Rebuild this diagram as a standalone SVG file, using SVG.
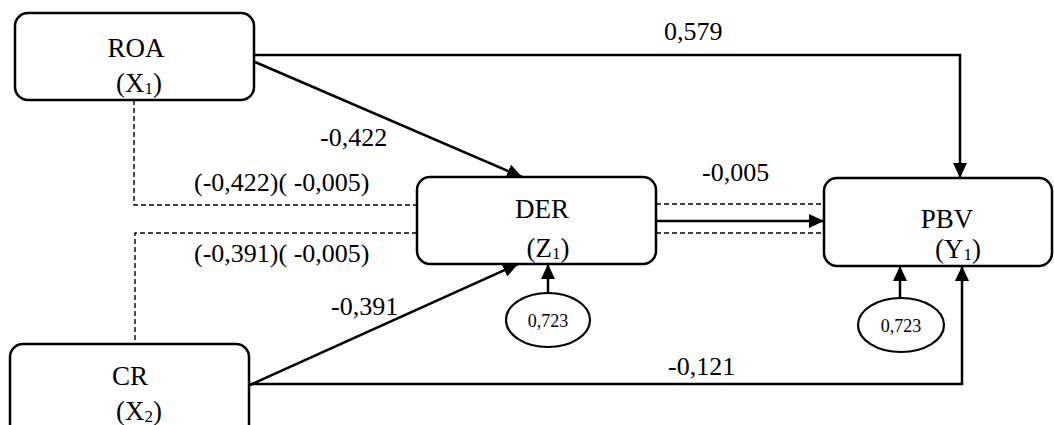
<svg xmlns="http://www.w3.org/2000/svg" width="1054" height="425" viewBox="0 0 1054 425">
<style>
.box{fill:#fff;stroke:#000;stroke-width:2.5}
.ell{fill:#fff;stroke:#000;stroke-width:2.2}
.t{font-family:"Liberation Serif","Times New Roman",serif;font-size:27px;fill:#000;text-anchor:middle}
.lbl{font-family:"Liberation Serif","Times New Roman",serif;font-size:26px;fill:#000}
.sm{font-family:"Liberation Serif","Times New Roman",serif;font-size:18px;fill:#000;text-anchor:middle}
.arr{fill:none;stroke:#000;stroke-width:2.5;marker-end:url(#ah)}
.dash{fill:none;stroke:#000;stroke-width:1.4;stroke-dasharray:5,3}
</style>
<defs>
<marker id="ah" markerUnits="userSpaceOnUse" markerWidth="16" markerHeight="14" refX="15" refY="7" orient="auto">
<path d="M0,0 L15,7 L0,14 z" fill="#000"/>
</marker>
</defs>
<g id="connectors">
<path class="dash" d="M134,100 V205 H417"/>
<path class="dash" d="M417,233 H135 V344"/>
<path class="dash" d="M656,204 H824"/>
<path class="dash" d="M656,233 H824"/>
<path class="arr" d="M255,62 L522,177"/>
<path class="arr" d="M250,385 L518,264"/>
<path class="arr" d="M656,221 L824,221"/>
<path class="arr" d="M254,55 H960 V178"/>
<path class="arr" d="M249,384 H962 V266"/>
<path class="arr" d="M548,293 V264"/>
<path class="arr" d="M900,298 V266"/>
<text class="lbl" x="664" y="40">0,579</text>
<text class="lbl" x="320" y="146">-0,422</text>
<text class="lbl" x="194" y="191">(-0,422)( -0,005)</text>
<text class="lbl" x="194" y="262">(-0,391)( -0,005)</text>
<text class="lbl" x="331" y="315">-0,391</text>
<text class="lbl" x="702" y="181">-0,005</text>
<text class="lbl" x="668" y="375">-0,121</text>
</g>
<g id="roa">
<rect class="box" x="15" y="13" width="239" height="87" rx="13"/>
<text class="t" x="136" y="57">ROA</text>
<text class="t" x="139" y="92">(X<tspan font-size="17" dy="2">1</tspan><tspan dy="-2">)</tspan></text>
</g>
<g id="der">
<rect class="box" x="417" y="177" width="239" height="87" rx="13"/>
<text class="t" x="542" y="218">DER</text>
<text class="t" x="548" y="257">(Z<tspan font-size="17" dy="2">1</tspan><tspan dy="-2">)</tspan></text>
</g>
<g id="pbv">
<rect class="box" x="824" y="178" width="228" height="88" rx="13"/>
<text class="t" x="947" y="228">PBV</text>
<text class="t" x="958" y="258">(Y<tspan font-size="17" dy="2">1</tspan><tspan dy="-2">)</tspan></text>
</g>
<g id="cr">
<rect class="box" x="10" y="344" width="239" height="95" rx="13"/>
<text class="t" x="130" y="385">CR</text>
<text class="t" x="139" y="420">(X<tspan font-size="17" dy="2">2</tspan><tspan dy="-2">)</tspan></text>
</g>
<g id="e-der">
<ellipse class="ell" cx="548" cy="320" rx="42" ry="27"/>
<text class="sm" x="548" y="327">0,723</text>
</g>
<g id="e-pbv">
<ellipse class="ell" cx="901" cy="325" rx="43" ry="27"/>
<text class="sm" x="901" y="332">0,723</text>
</g>
</svg>
